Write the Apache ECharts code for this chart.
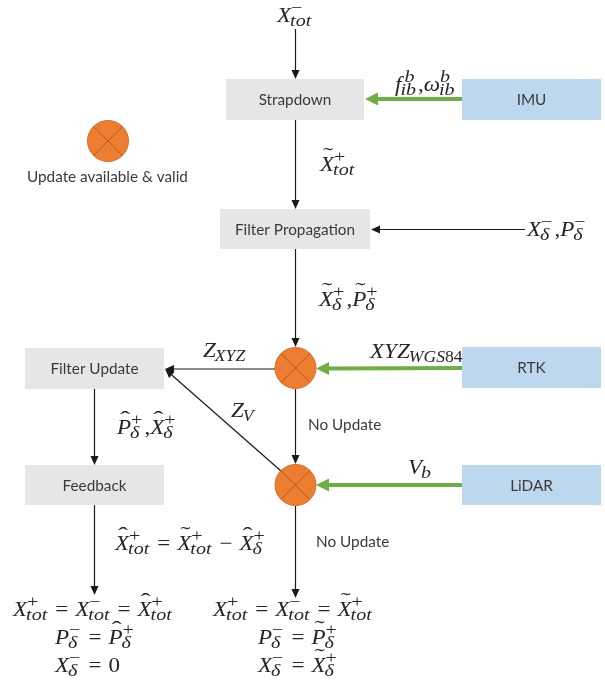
<!DOCTYPE html>
<html lang="en">
<head>
<meta charset="UTF-8">
<title>Update flow</title>
<style>
body { margin: 0; padding: 0; background: #fff; }
#chart { width: 605px; height: 681px; }
</style>
</head>
<body>
<div id="chart"></div>
<script src="https://cdn.jsdelivr.net/npm/echarts@6/dist/echarts.min.js"></script>
<script>
// boxes: [x0, y0, x1, y1] in picture units
var grayBoxes = [[226, 79, 364, 120], [220, 209, 370, 249], [25, 348, 164, 389], [25, 465, 164, 505]];
var grayLabels = ['Strapdown', 'Filter Propagation', 'Filter Update', 'Feedback'];
var blueBoxes = [[462, 79, 601, 120], [462, 347, 601, 388], [462, 465, 601, 505]];
var blueLabels = ['IMU', 'RTK', 'LiDAR'];

// update markers, [x, y]
var markers = [[108, 141], [295.5, 368], [295.5, 485]];

// arrows: [fromX, fromY, toX, toY]
var blackArrows = [
	[295.5, 29, 295.5, 79],
	[295.5, 120, 295.5, 209],
	[295.5, 249, 295.5, 347],
	[295.5, 389, 295.5, 464],
	[295.5, 506, 295.5, 598],
	[94.5, 389, 94.5, 465],
	[94.5, 505, 94.5, 595],
	[525, 229.5, 371, 229.5],
	[275, 369, 165, 369],
	[281, 471, 165, 369]
];
var greenArrows = [
	[462, 99, 365, 99],
	[462, 368, 316, 368.5],
	[462, 485, 316, 485]
];

// plain captions
var captions = ['No Update', 'No Update', 'Update available & valid'];
var captionPos = [[308, 425], [316, 542], [27, 177]];

// formulas. atom = base|accent|sup|sub, atoms split by a space
var formulas = [
	'X||−|tot',
	'f||b|ib , ω||b|ib',
	'X|~|+|tot',
	'X||−|δ , P||−|δ',
	'X|~|+|δ , P|~|+|δ',
	'Z|||XYZ',
	'Z|||V',
	'P|^|+|δ , X|^|+|δ',
	'XYZ|||WGS84',
	'V|||b',
	'X|^|+|tot = X|~|+|tot − X|^|+|δ',
	'X||+|tot = X||−|tot = X|^|+|tot',
	'P||−|δ = P|^|+|δ',
	'X||−|δ = 0',
	'X||+|tot = X||−|tot = X|~|+|tot',
	'P||−|δ = P|~|+|δ',
	'X||−|δ = X|~|+|δ'
];
// left edge and baseline of each formula
var formulaPos = [
	[277, 23], [395, 92], [320, 172], [527, 237], [319, 307],
	[203, 358], [231, 418], [117, 435], [370, 359], [408, 475],
	[115, 551], [13, 617], [55, 645], [55, 673], [213, 617], [258, 645], [258, 673]
];

var SERIF = '"Liberation Serif"';
var BASE = 21, SCRIPT = 16, BASE_STRETCH = 1.1, SCRIPT_STRETCH = 1.25, CAPS_STRETCH = 1.1;
var measure = document.createElement('canvas').getContext('2d');

function textWidth(str, font) {
	measure.font = font;
	return measure.measureText(str).width;
}

// split into italic letters and upright digits/signs
function runs(str) {
	return str.match(/[A-Za-zδω]+|[^A-Za-zδω]+/g) || [];
}

function pushRuns(out, str, x, baseline, size, stretch) {
	runs(str).forEach(function (run) {
		var italic = /[A-Za-zδω]/.test(run);
		var font = (italic ? 'italic ' : '') + size + 'px ' + SERIF;
		var sx = /[A-Z0-9]/.test(run) && size === SCRIPT ? CAPS_STRETCH : stretch;
		out.push({
			type: 'text',
			x: x,
			y: baseline - size * 0.33,
			scaleX: sx,
			style: { text: run, font: font, fill: '#262626', textAlign: 'left', verticalAlign: 'middle' }
		});
		x += textWidth(run, font) * sx;
	});
	return x;
}

function formulaElements(src, x, baseline) {
	var out = [];
	src.split(' ').forEach(function (atom) {
		var parts = atom.split('|');
		if (parts.length === 1) {
			// operators and separators
			var pad = atom === ',' ? 1 : 7;
			if (atom === '0') pad = 0;
			x += pad;
			x = pushRuns(out, atom, x, baseline, BASE, BASE_STRETCH);
			x += atom === ',' ? 0 : pad;
			return;
		}
		var baseFont = 'italic ' + BASE + 'px ' + SERIF;
		var baseWidth = textWidth(parts[0], baseFont) * BASE_STRETCH;
		var start = x;
		pushRuns(out, parts[0], x, baseline, BASE, BASE_STRETCH);
		x += baseWidth;
		if (parts[1]) {
			out.push({
				type: 'text',
				x: start + baseWidth * 0.58,
				y: baseline - 16,
				scaleX: 1.7,
				style: {
					text: parts[1] === '~' ? '˜' : 'ˆ',
					font: '18px ' + SERIF,
					fill: '#262626',
					textAlign: 'center',
					verticalAlign: 'middle'
				}
			});
		}
		// f leans over its superscript
		var supShift = parts[0] === 'f' ? 3 : 0;
		var end = x;
		if (parts[2]) end = Math.max(end, pushRuns(out, parts[2], x + supShift, baseline - 9, SCRIPT, SCRIPT_STRETCH));
		if (parts[3]) end = Math.max(end, pushRuns(out, parts[3], x - 1, baseline + 4, SCRIPT, SCRIPT_STRETCH));
		x = end + 1;
	});
	return out;
}

function boxSeries(boxes, labels, color) {
	return {
		type: 'custom',
		coordinateSystem: 'cartesian2d',
		silent: true,
		clip: false,
		data: boxes,
		renderItem: function (params, api) {
			var a = api.coord([api.value(0), api.value(1)]);
			var b = api.coord([api.value(2), api.value(3)]);
			return {
				type: 'group',
				children: [{
					type: 'rect',
					shape: { x: a[0], y: a[1], width: b[0] - a[0], height: b[1] - a[1] },
					style: { fill: color }
				}, {
					type: 'text',
					x: (a[0] + b[0]) / 2,
					y: (a[1] + b[1]) / 2 + 1,
					style: {
						text: labels[params.dataIndex],
						font: '15.3px Lato',
						fill: '#3a3a3a',
						textAlign: 'center',
						verticalAlign: 'middle'
					}
				}]
			};
		}
	};
}

function arrowSeries(arrows, color, lineWidth, headLen, headWidth) {
	return {
		type: 'custom',
		coordinateSystem: 'cartesian2d',
		silent: true,
		clip: false,
		data: arrows,
		renderItem: function (params, api) {
			var a = api.coord([api.value(0), api.value(1)]);
			var b = api.coord([api.value(2), api.value(3)]);
			var dx = b[0] - a[0], dy = b[1] - a[1];
			var len = Math.sqrt(dx * dx + dy * dy);
			dx /= len; dy /= len;
			var neck = [b[0] - dx * headLen, b[1] - dy * headLen];
			var half = headWidth / 2;
			return {
				type: 'group',
				children: [{
					type: 'line',
					shape: { x1: a[0], y1: a[1], x2: neck[0], y2: neck[1] },
					style: { stroke: color, lineWidth: lineWidth }
				}, {
					type: 'polygon',
					shape: {
						points: [
							b,
							[neck[0] - dy * half, neck[1] + dx * half],
							[neck[0] + dy * half, neck[1] - dx * half]
						]
					},
					style: { fill: color }
				}]
			};
		}
	};
}

var R = 20.5, D = R * Math.SQRT1_2;

var option = {
	animation: false,
	backgroundColor: '#fff',
	grid: { left: 0, right: 0, top: 0, bottom: 0 },
	xAxis: { type: 'value', min: 0, max: 605, show: false },
	yAxis: { type: 'value', min: 0, max: 681, inverse: true, show: false },
	series: [
		boxSeries(grayBoxes, grayLabels, '#E6E6E6'),
		boxSeries(blueBoxes, blueLabels, '#BDD7EE'),
		arrowSeries(blackArrows, '#1a1a1a', 1.2, 9, 8),
		arrowSeries(greenArrows, '#70AD47', 4, 13, 13),
		{
			type: 'custom',
			coordinateSystem: 'cartesian2d',
			silent: true,
			clip: false,
			data: markers,
			renderItem: function (params, api) {
				var c = api.coord([api.value(0), api.value(1)]);
				var line = { stroke: '#AE5A21', lineWidth: 1 };
				return {
					type: 'group',
					children: [{
						type: 'circle',
						shape: { cx: c[0], cy: c[1], r: R },
						style: { fill: '#ED7D31', stroke: '#D0702E', lineWidth: 1 }
					}, {
						type: 'line',
						shape: { x1: c[0] - D, y1: c[1] - D, x2: c[0] + D, y2: c[1] + D },
						style: line
					}, {
						type: 'line',
						shape: { x1: c[0] - D, y1: c[1] + D, x2: c[0] + D, y2: c[1] - D },
						style: line
					}]
				};
			}
		},
		{
			type: 'custom',
			coordinateSystem: 'cartesian2d',
			silent: true,
			clip: false,
			data: captionPos,
			renderItem: function (params, api) {
				var c = api.coord([api.value(0), api.value(1)]);
				return {
					type: 'text',
					x: c[0],
					y: c[1],
					style: {
						text: captions[params.dataIndex],
						font: '15.3px Lato',
						fill: '#3a3a3a',
						textAlign: 'left',
						verticalAlign: 'middle'
					}
				};
			}
		},
		{
			type: 'custom',
			coordinateSystem: 'cartesian2d',
			silent: true,
			clip: false,
			data: formulaPos,
			renderItem: function (params, api) {
				var c = api.coord([api.value(0), api.value(1)]);
				return {
					type: 'group',
					children: formulaElements(formulas[params.dataIndex], c[0], c[1])
				};
			}
		}
	]
};

var myChart = echarts.init(document.getElementById('chart'));
myChart.setOption(option);
</script>
</body>
</html>
